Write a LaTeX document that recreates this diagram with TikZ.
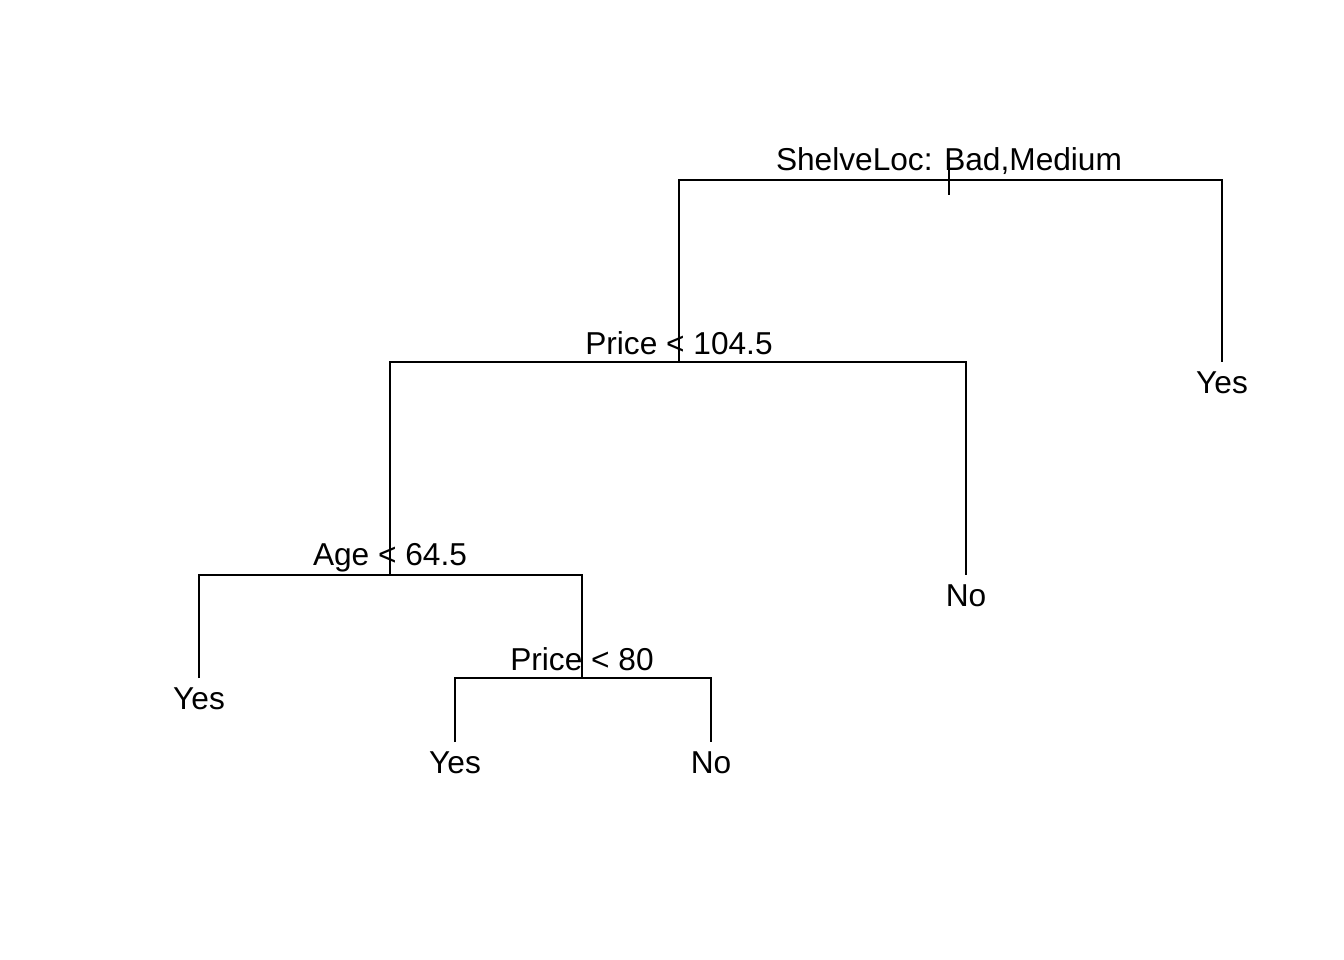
\documentclass[tikz,border=0pt]{standalone}
\usepackage{fontspec}
\setmainfont{Liberation Sans}
\usepackage{tikz}
\usetikzlibrary{positioning}

\tikzset{
  split/.style={anchor=base, inner sep=0pt, font=\fontsize{9}{11}\selectfont},
  leaf/.style={anchor=north, inner sep=2.6pt, font=\fontsize{9}{11}\selectfont},
  branch/.style={line width=0.6pt, black}
}

\begin{document}
\begin{tikzpicture}[x=0.01cm, y=-0.01cm]
      \useasboundingbox (0,0) rectangle (1344,960);
      % Split points of the tree
      \coordinate (shelve) at (949,180);
      \coordinate (pricehi) at (679,362);
      \coordinate (age) at (390,575);
      \coordinate (pricelo) at (582,678);

      % Split labels
      \node[split] (shelvelab) at (949,170) {ShelveLoc: Bad,Medium};
      \node[split] (pricehilab) at (679,354) {Price < 104.5};
      \node[split] (agelab) at (390,565) {Age < 64.5};
      \node[split] (pricelolab) at (582,670) {Price < 80};

      % Leaves
      \node[leaf] (yesa) at (1222,362) {Yes};
      \node[leaf] (noa) at (966,575) {No};
      \node[leaf] (yesb) at (199,678) {Yes};
      \node[leaf] (yesc) at (455,742) {Yes};
      \node[leaf] (nob) at (711,742) {No};

      % Branches
      \draw[branch] (shelve) ++(0,-22) -- ++(0,37);
      \draw[branch] (pricehi) |- (shelve) -| (yesa.north);
      \draw[branch] (age) |- (pricehi) -| (noa.north);
      \draw[branch] (yesb.north) |- (age) -| (pricelo);
      \draw[branch] (yesc.north) |- (pricelo) -| (nob.north);
    \end{tikzpicture}
\end{document}
